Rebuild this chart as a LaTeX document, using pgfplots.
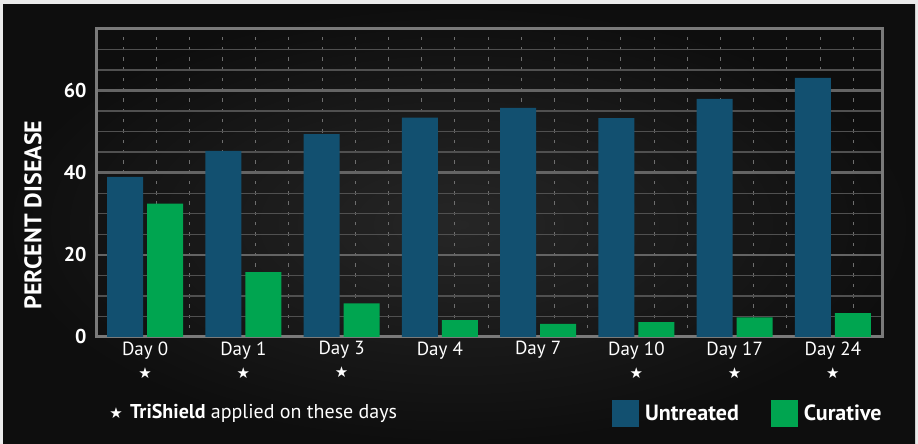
\documentclass[border=0pt]{standalone}
\usepackage{pgfplots}
\pgfplotsset{compat=1.18}
\usepackage{fontspec}
\setmainfont{PT Sans}
\newfontfamily\symfont{DejaVu Sans}
\definecolor{untreated}{RGB}{18,80,112}
\definecolor{curative}{RGB}{0,165,80}
\definecolor{framegray}{RGB}{122,122,122}
\definecolor{majgrid}{RGB}{100,100,100}
\definecolor{mingrid}{RGB}{80,80,80}
\definecolor{dashgrid}{RGB}{110,110,110}
\newcommand{\st}{{\symfont\fontsize{15}{15}\selectfont ★}}
\begin{document}
\begin{tikzpicture}[x=1pt,y=1pt]
\fill[black!8] (0,0) rectangle (918,444);
\useasboundingbox (0,0) rectangle (918,444);
\shade[inner color={rgb,255:red,38;green,38;blue,38}, outer color={rgb,255:red,14;green,14;blue,14}] (3,0) rectangle (915,439);
\begin{axis}[
  at={(96pt,107pt)}, anchor=south west,
  scale only axis, width=786pt, height=308pt,
  xmin=-0.5, xmax=7.5, ymin=0, ymax=75,
  axis line style={framegray, line width=3pt},
  xtick={0,...,7},
  xticklabels={{Day 0\\\st},{Day 1\\\st},{Day 3\\\st},{Day 4},{Day 7},{Day 10\\\st},{Day 17\\\st},{Day 24\\\st}},
  xticklabel style={align=center, text=white, font=\fontsize{19}{23}\selectfont, yshift=-1pt},
  ytick={0,20,40,60},
  minor ytick={5,10,...,75},
  minor xtick={-0.2252,0.1127,...,7.22},
  major tick length=0pt, minor tick length=0pt,
  /pgf/number format/assume math mode=true,
  yticklabel style={text=white, font=\fontsize{20}{20}\selectfont\bfseries, xshift=-6pt},
  ymajorgrids, yminorgrids, xminorgrids,
  major grid style={majgrid, line width=2.5pt},
  minor y grid style={mingrid, line width=1.4pt},
  minor x grid style={dashgrid, line width=1pt, dash pattern=on 3.5pt off 6.8pt, dash phase=1.75pt},
  legend columns=2,
  legend style={at={(axis description cs:1.006,-0.247)}, anchor=east, draw=none, fill=none,
    text=white, font=\fontsize{22}{22}\selectfont\bfseries,
    /tikz/every even column/.append style={column sep=30pt}},
  legend image code/.code={\fill[#1] (0pt,-13.5pt) rectangle (27pt,13.5pt);},
  legend cell align=left,
]
\addplot[ybar, bar width=36pt, bar shift=-20pt, fill=untreated, draw=none] coordinates {
  (0,39.0) (1,45.3) (2,49.4) (3,53.4) (4,55.8) (5,53.3) (6,58.0) (7,63.1)};
\addlegendentry{\hspace{4pt}Untreated}
\addplot[ybar, bar width=36pt, bar shift=20pt, fill=curative, draw=none] coordinates {
  (0,32.5) (1,15.8) (2,8.2) (3,4.1) (4,3.2) (5,3.6) (6,4.8) (7,5.8)};
\addlegendentry{\hspace{4pt}Curative}
\end{axis}
\node[rotate=90, text=white, font=\fontsize{24}{24}\selectfont\bfseries] at (33,229) {PERCENT DISEASE};
\node[anchor=east, text=white, inner sep=0pt] at (123,31) {\st};
\node[anchor=west, text=white, inner sep=0pt, font=\fontsize{20}{20}\selectfont] at (130,31) {\textbf{TriShield} applied on these days};
\end{tikzpicture}
\end{document}
